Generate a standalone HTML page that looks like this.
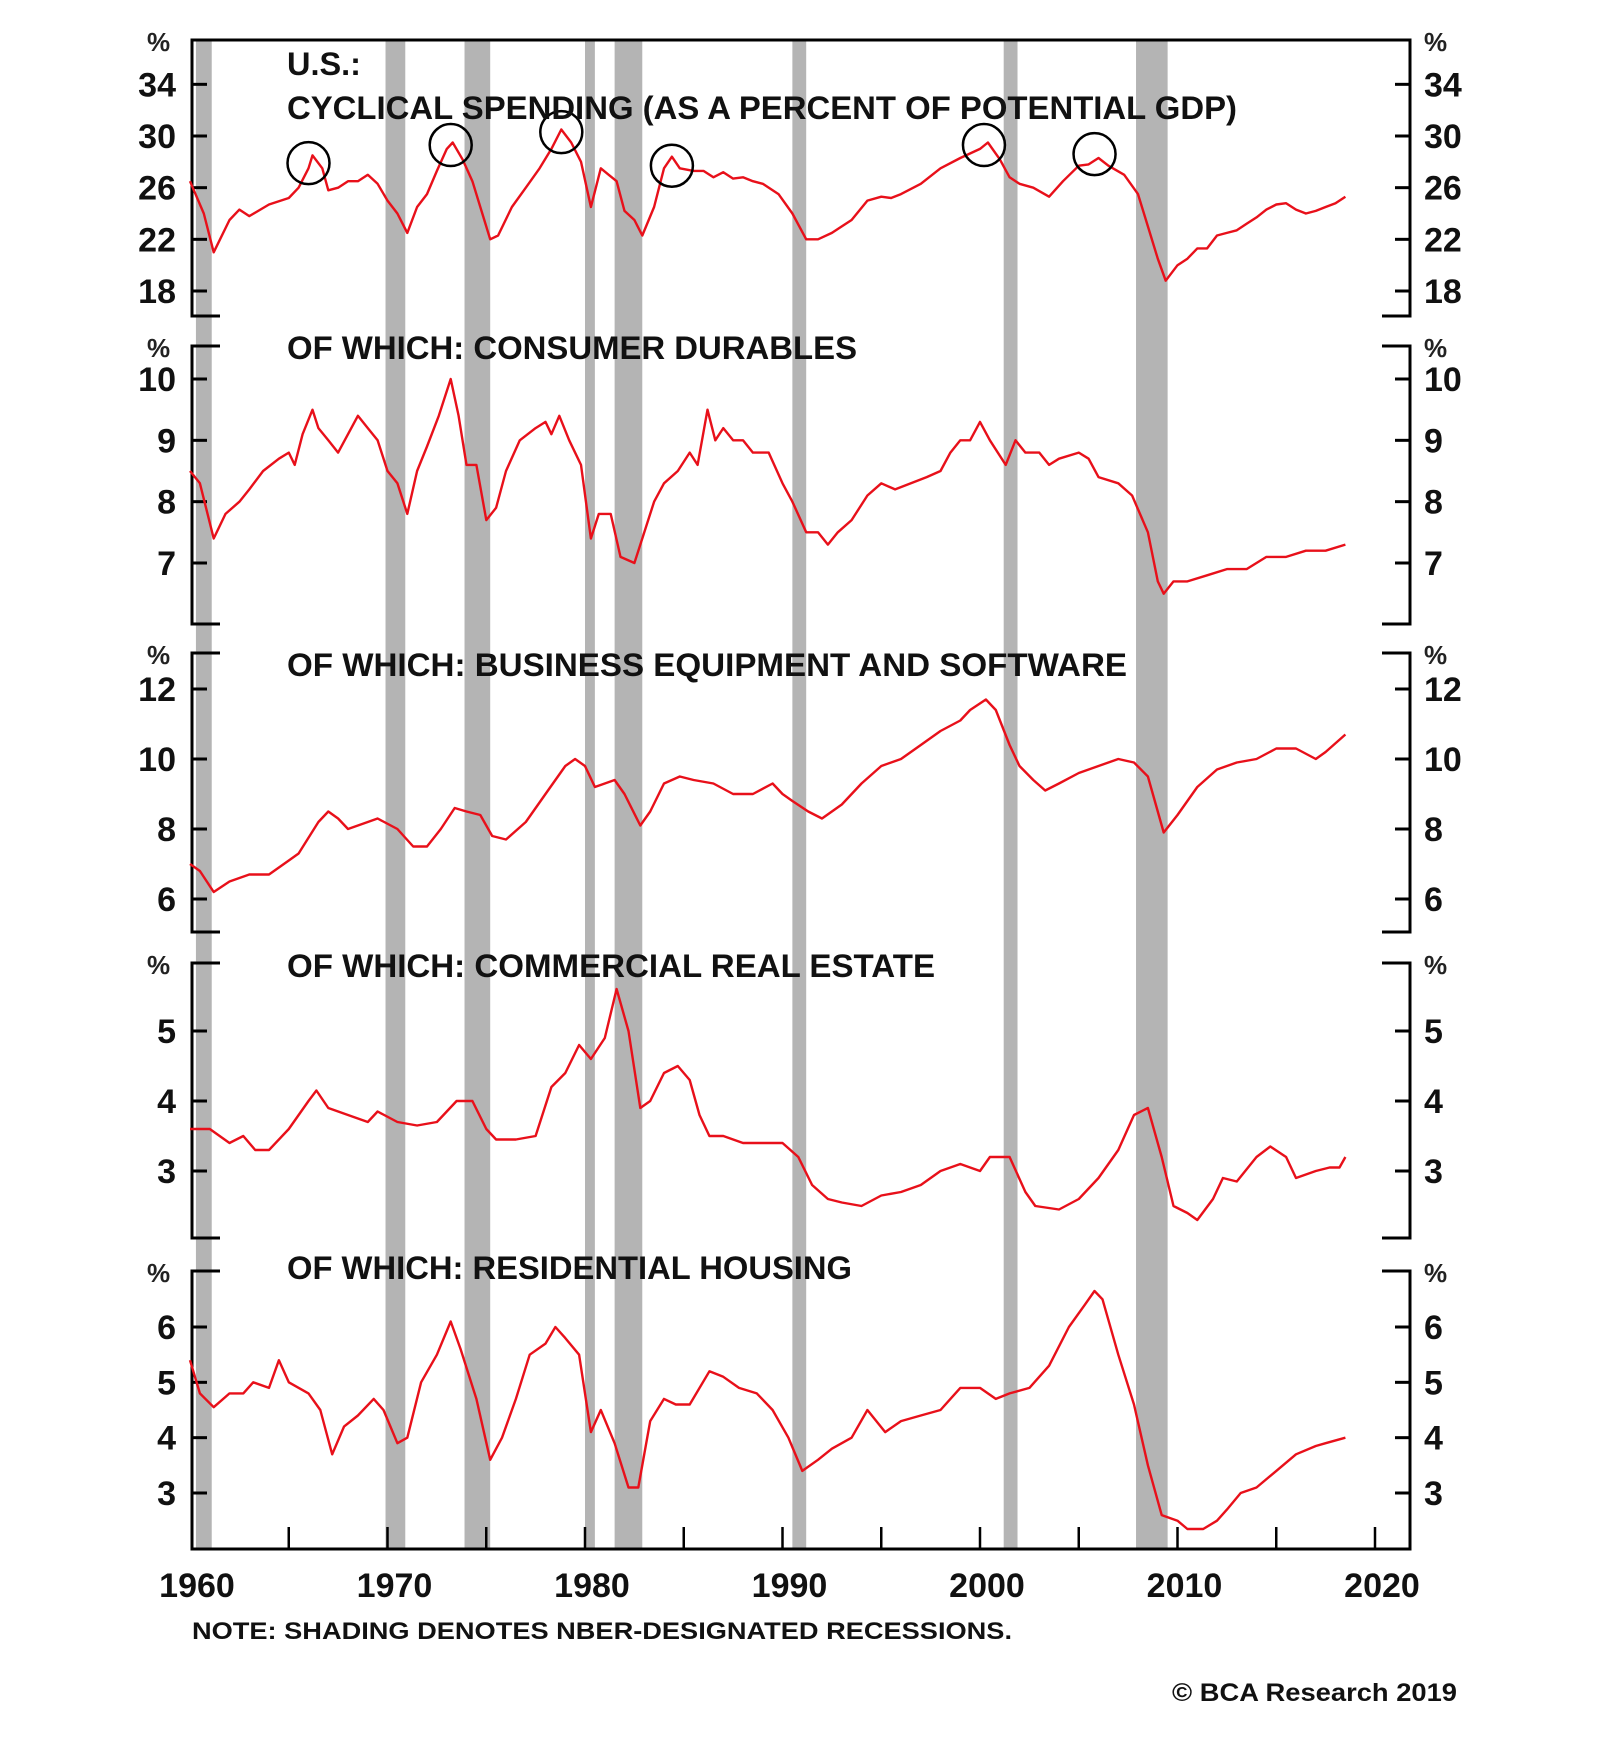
<!DOCTYPE html>
<html><head><meta charset="utf-8"><style>
html,body{margin:0;padding:0;background:#fff;}
svg{display:block;font-family:"Liberation Sans",Arial,sans-serif;font-weight:bold;}
</style></head><body>
<svg id="chart" width="1600" height="1758" viewBox="0 0 1600 1758" xmlns="http://www.w3.org/2000/svg">
<g id="bands"></g>
<g id="axes"></g>
<g id="series"></g>
<g id="labels"></g>
<text x="192" y="1639" font-size="24" textLength="820" lengthAdjust="spacingAndGlyphs" fill="#111">NOTE: SHADING DENOTES NBER-DESIGNATED RECESSIONS.</text>
<text x="1172" y="1701" font-size="25" textLength="285" lengthAdjust="spacingAndGlyphs" fill="#111">© BCA Research 2019</text>
</svg>
<script>
const recessionStart=[1960.3,1969.9,1973.9,1980.0,1981.5,1990.5,2001.2,2007.9];
const recessionEnd=[1961.1,1970.9,1975.2,1980.5,1982.9,1991.2,2001.9,2009.5];
const yearTicks=[1960,1970,1980,1990,2000,2010,2020];

const years1=[1960,1960.7,1961.2,1962,1962.5,1963,1964,1965,1965.5,1966,1966.2,1966.7,1967,1967.5,1968,1968.5,1969,1969.5,1970,1970.5,1971,1971.5,1972,1972.5,1973,1973.3,1973.8,1974.3,1974.8,1975.2,1975.6,1976.3,1977,1977.7,1978.3,1978.8,1979.3,1979.8,1980.3,1980.8,1981.2,1981.6,1982,1982.5,1982.9,1983.5,1984,1984.4,1984.8,1985.5,1986,1986.5,1987,1987.5,1988,1988.5,1989,1989.8,1990.5,1991.2,1991.8,1992.5,1993,1993.5,1994.3,1995,1995.5,1996,1997,1998,1999,2000,2000.4,2001,2001.5,2002,2002.7,2003.5,2004.2,2005,2005.5,2006,2006.5,2007.3,2008,2008.5,2009,2009.4,2010,2010.5,2011,2011.5,2012,2012.5,2013,2013.5,2014,2014.5,2015,2015.5,2016,2016.5,2017,2017.5,2018,2018.5];
const values1=[26.5,24,21,23.5,24.3,23.8,24.7,25.2,26,27.5,28.5,27.5,25.8,26,26.5,26.5,27,26.3,25,24,22.5,24.5,25.5,27.3,29,29.5,28.2,26.5,24,22,22.3,24.5,26,27.5,29,30.5,29.5,28,24.5,27.5,27,26.5,24.2,23.5,22.3,24.5,27.5,28.4,27.5,27.3,27.3,26.8,27.2,26.7,26.8,26.5,26.3,25.5,24,22,22,22.5,23,23.5,25,25.3,25.2,25.5,26.3,27.5,28.3,29,29.5,28.2,26.8,26.3,26,25.3,26.5,27.7,27.8,28.3,27.7,27,25.5,23,20.5,18.8,20,20.5,21.3,21.3,22.3,22.5,22.7,23.2,23.7,24.3,24.7,24.8,24.3,24,24.2,24.5,24.8,25.3];
const circleYears=[1966.0,1973.2,1978.8,1984.4,2000.2,2005.8];
const circleValues=[27.9,29.3,30.3,27.7,29.3,28.6];

const years2=[1960,1960.5,1961.2,1961.8,1962.5,1963,1963.7,1964.5,1965,1965.3,1965.7,1966.2,1966.5,1967,1967.5,1968,1968.5,1969,1969.5,1970,1970.5,1971,1971.5,1972,1972.6,1973.2,1973.6,1974,1974.5,1975,1975.5,1976,1976.7,1977.5,1978,1978.3,1978.7,1979.2,1979.8,1980.3,1980.7,1981.3,1981.8,1982.5,1983,1983.5,1984,1984.7,1985.3,1985.7,1986.2,1986.6,1987,1987.5,1988,1988.5,1989.3,1990,1990.5,1991.2,1991.8,1992.3,1992.8,1993.5,1994.3,1995,1995.7,1996.5,1997.3,1998,1998.5,1999,1999.5,2000,2000.5,2001.3,2001.8,2002.3,2003,2003.5,2004,2005,2005.5,2006,2007,2007.7,2008.5,2009,2009.3,2009.8,2010.5,2011.5,2012.5,2013.5,2014.5,2015.5,2016.5,2017.5,2018.5];
const values2=[8.5,8.3,7.4,7.8,8.0,8.2,8.5,8.7,8.8,8.6,9.1,9.5,9.2,9.0,8.8,9.1,9.4,9.2,9.0,8.5,8.3,7.8,8.5,8.9,9.4,10.0,9.4,8.6,8.6,7.7,7.9,8.5,9.0,9.2,9.3,9.1,9.4,9.0,8.6,7.4,7.8,7.8,7.1,7.0,7.5,8.0,8.3,8.5,8.8,8.6,9.5,9.0,9.2,9.0,9.0,8.8,8.8,8.3,8.0,7.5,7.5,7.3,7.5,7.7,8.1,8.3,8.2,8.3,8.4,8.5,8.8,9.0,9.0,9.3,9.0,8.6,9.0,8.8,8.8,8.6,8.7,8.8,8.7,8.4,8.3,8.1,7.5,6.7,6.5,6.7,6.7,6.8,6.9,6.9,7.1,7.1,7.2,7.2,7.3];

const years3=[1960,1960.5,1961.2,1962,1963,1964,1965,1965.5,1966.5,1967,1967.5,1968,1969,1969.5,1970.5,1971.3,1972,1972.7,1973.4,1974,1974.7,1975.3,1976,1977,1978,1979,1979.5,1980,1980.5,1981,1981.5,1982,1982.8,1983.3,1984,1984.8,1985.5,1986.5,1987.5,1988.5,1989.5,1990,1990.5,1991.3,1992,1993,1994,1995,1996,1997,1998,1999,1999.5,2000.3,2000.8,2001.5,2002,2002.7,2003.3,2004,2005,2006,2007,2007.8,2008.5,2009.3,2010,2011,2012,2013,2014,2015,2016,2017,2017.5,2018.5];
const values3=[7.0,6.8,6.2,6.5,6.7,6.7,7.1,7.3,8.2,8.5,8.3,8.0,8.2,8.3,8.0,7.5,7.5,8.0,8.6,8.5,8.4,7.8,7.7,8.2,9.0,9.8,10.0,9.8,9.2,9.3,9.4,9.0,8.1,8.5,9.3,9.5,9.4,9.3,9.0,9.0,9.3,9.0,8.8,8.5,8.3,8.7,9.3,9.8,10.0,10.4,10.8,11.1,11.4,11.7,11.4,10.4,9.8,9.4,9.1,9.3,9.6,9.8,10.0,9.9,9.5,7.9,8.4,9.2,9.7,9.9,10.0,10.3,10.3,10.0,10.2,10.7];

const years4=[1960,1961,1962,1962.7,1963.3,1964,1965,1966,1966.4,1967,1968,1969,1969.5,1970.5,1971.5,1972.5,1973.5,1974.3,1975,1975.5,1976.5,1977.5,1978.3,1979,1979.7,1980.3,1981,1981.6,1982.2,1982.8,1983.3,1984,1984.7,1985.3,1985.8,1986.3,1987,1988,1989,1990,1990.8,1991.5,1992.3,1993,1994,1995,1996,1997,1998,1999,2000,2000.5,2001.5,2002.3,2002.8,2004,2005,2006,2007,2007.8,2008.5,2009.2,2009.8,2010.5,2011,2011.8,2012.3,2013,2014,2014.7,2015.5,2016,2017,2017.7,2018.2,2018.5];
const values4=[3.6,3.6,3.4,3.5,3.3,3.3,3.6,4.0,4.15,3.9,3.8,3.7,3.85,3.7,3.65,3.7,4.0,4.0,3.6,3.45,3.45,3.5,4.2,4.4,4.8,4.6,4.9,5.6,5.0,3.9,4.0,4.4,4.5,4.3,3.8,3.5,3.5,3.4,3.4,3.4,3.2,2.8,2.6,2.55,2.5,2.65,2.7,2.8,3.0,3.1,3.0,3.2,3.2,2.7,2.5,2.45,2.6,2.9,3.3,3.8,3.9,3.2,2.5,2.4,2.3,2.6,2.9,2.85,3.2,3.35,3.2,2.9,3.0,3.05,3.05,3.2];

const years5=[1960,1960.5,1961.2,1962,1962.7,1963.2,1964,1964.5,1965,1966,1966.6,1967.2,1967.8,1968.5,1969.3,1969.8,1970.5,1971,1971.7,1972.5,1973.2,1973.7,1974.5,1975.2,1975.8,1976.5,1977.2,1978,1978.5,1979,1979.7,1980.3,1980.8,1981.5,1982.2,1982.7,1983.3,1984,1984.6,1985.3,1986.3,1987,1987.8,1988.7,1989.5,1990.3,1991,1991.8,1992.5,1993.5,1994.3,1995.2,1996,1997,1998,1999,2000,2000.8,2001.5,2002.5,2003.5,2004.5,2005.3,2005.8,2006.2,2007,2007.8,2008.5,2009.2,2010,2010.5,2011.3,2012,2012.5,2013.2,2014,2015,2016,2017,2017.5,2018.5];
const values5=[5.4,4.8,4.55,4.8,4.8,5.0,4.9,5.4,5.0,4.8,4.5,3.7,4.2,4.4,4.7,4.5,3.9,4.0,5.0,5.5,6.1,5.6,4.7,3.6,4.0,4.7,5.5,5.7,6.0,5.8,5.5,4.1,4.5,3.9,3.1,3.1,4.3,4.7,4.6,4.6,5.2,5.1,4.9,4.8,4.5,4.0,3.4,3.6,3.8,4.0,4.5,4.1,4.3,4.4,4.5,4.9,4.9,4.7,4.8,4.9,5.3,6.0,6.4,6.65,6.5,5.5,4.6,3.5,2.6,2.5,2.35,2.35,2.5,2.7,3.0,3.1,3.4,3.7,3.85,3.9,4.0];

const ticks1=[34,30,26,22,18];
const ticks2=[10,9,8,7];
const ticks3=[12,10,8,6];
const ticks4=[5,4,3];
const ticks5=[6,5,4,3];

const NS='http://www.w3.org/2000/svg';
const L=192,R=1410;
function xs(yr){return 190+(yr-1960)*19.75;}
function mk(tag,parent,attrs){const e=document.createElementNS(NS,tag);for(const k in attrs)e.setAttribute(k,attrs[k]);parent.appendChild(e);return e;}
const panels=[
 {top:40,bot:316,va:30,ya:136,vb:18,yb:291,ticks:ticks1,years:years1,values:values1,name:'cyclical-spending',title:['U.S.:','CYCLICAL SPENDING (AS A PERCENT OF POTENTIAL GDP)'],tw:[74,950],tb:[75,119]},
 {top:346,bot:624,va:10,ya:379,vb:7,yb:563,ticks:ticks2,years:years2,values:values2,name:'consumer-durables',title:['OF WHICH: CONSUMER DURABLES'],tw:[570],tb:[359]},
 {top:653,bot:932,va:12,ya:689,vb:6,yb:899,ticks:ticks3,years:years3,values:values3,name:'business-equipment',title:['OF WHICH: BUSINESS EQUIPMENT AND SOFTWARE'],tw:[840],tb:[676]},
 {top:963,bot:1238,va:5,ya:1031,vb:3,yb:1171,ticks:ticks4,years:years4,values:values4,name:'commercial-real-estate',title:['OF WHICH: COMMERCIAL REAL ESTATE'],tw:[648],tb:[977]},
 {top:1271,bot:1549,va:6,ya:1327,vb:3,yb:1493,ticks:ticks5,years:years5,values:values5,name:'residential-housing',title:['OF WHICH: RESIDENTIAL HOUSING'],tw:[565],tb:[1279]}
];
function yScale(p){const k=(p.yb-p.ya)/(p.vb-p.va);return v=>p.ya+(v-p.va)*k;}
const bands=document.getElementById('bands'),axes=document.getElementById('axes'),series=document.getElementById('series'),labels=document.getElementById('labels');
for(let i=0;i<recessionStart.length;i++){
 const r=mk('rect',bands,{x:xs(recessionStart[i]),y:40,width:xs(recessionEnd[i])-xs(recessionStart[i]),height:1509,fill:'#b4b4b4'});
 
 
}
panels.forEach((p,pi)=>{
 const y=yScale(p);
 const g=mk('g',axes,{});
 
 
 const st={stroke:'#000','stroke-width':3,fill:'none'};
 mk('line',g,Object.assign({x1:L,y1:p.top,x2:L,y2:p.bot},st));
 mk('line',g,Object.assign({x1:R,y1:p.top,x2:R,y2:p.bot},st));
 if(pi===0){mk('line',g,Object.assign({x1:L-1.5,y1:p.top,x2:R+1.5,y2:p.top},st));}
 else{mk('line',g,Object.assign({x1:L-1.5,y1:p.top,x2:L+28,y2:p.top},st));mk('line',g,Object.assign({x1:R-28,y1:p.top,x2:R+1.5,y2:p.top},st));}
 if(pi===4){mk('line',g,Object.assign({x1:L-1.5,y1:p.bot,x2:R+1.5,y2:p.bot},st));}
 else{mk('line',g,Object.assign({x1:L-1.5,y1:p.bot,x2:L+28,y2:p.bot},st));mk('line',g,Object.assign({x1:R-28,y1:p.bot,x2:R+1.5,y2:p.bot},st));}
 p.ticks.forEach(t=>{
  const ty=y(t);
  mk('line',g,Object.assign({x1:L,y1:ty,x2:L+15,y2:ty},st));
  mk('line',g,Object.assign({x1:R-15,y1:ty,x2:R,y2:ty},st));
  const a=mk('text',labels,{x:176,y:ty+12,'font-size':34,'text-anchor':'end',fill:'#111'});a.textContent=t;
  
  
  const b=mk('text',labels,{x:1424,y:ty+12,'font-size':34,fill:'#111'});b.textContent=t;
  
  
 });
 const pl=mk('text',labels,{x:147,y:p.top+11,'font-size':26,fill:'#222'});pl.textContent='%';
 
 
 const pr=mk('text',labels,{x:1424,y:p.top+11,'font-size':26,fill:'#222'});pr.textContent='%';
 
 
 p.title.forEach((t,ti)=>{
  const tt=mk('text',labels,{x:287,y:p.tb[ti],'font-size':32,fill:'#111',textLength:p.tw[ti],lengthAdjust:'spacingAndGlyphs'});tt.textContent=t;
  
  
 });
 const pts=p.years.map((yr,i)=>xs(yr).toFixed(1)+','+y(p.values[i]).toFixed(1)).join(' ');
 const line=mk('polyline',series,{points:pts,fill:'none',stroke:'#e8101a','stroke-width':2.4,'stroke-linejoin':'round'});
 
 
 if(pi===0){
  circleYears.forEach((cy,i)=>{
   const c=mk('circle',series,{cx:xs(cy),cy:y(circleValues[i]),r:21,fill:'none',stroke:'#000','stroke-width':2.5});
   
   
  });
 }
});
const g5=panels[4];
for(let yr=1965;yr<=2020;yr+=5){
 const t=mk('line',axes,{x1:xs(yr),y1:g5.bot,x2:xs(yr),y2:g5.bot-22,stroke:'#000','stroke-width':2.5});
 
 
}
yearTicks.forEach(yr=>{
 const t=mk('text',labels,{x:xs(yr)+7,y:1597,'font-size':34,'text-anchor':'middle',fill:'#111'});t.textContent=yr;
 
 
});
</script>
</body></html>
